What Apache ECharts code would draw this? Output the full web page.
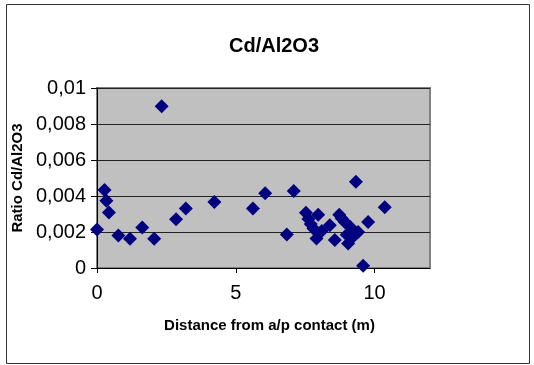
<!DOCTYPE html>
<html>
<head>
<meta charset="utf-8">
<script src="https://cdn.jsdelivr.net/npm/echarts@6/dist/echarts.min.js"></script>
<style>
  html, body { margin: 0; padding: 0; background: #fff; }
  #chart { width: 534px; height: 365px; }
</style>
</head>
<body>
<div id="chart"></div>
<script>
// Distance from the a/p contact (m) and the Cd/Al2O3 ratio at each sample
const distance = [
  0, 0.27, 0.34, 0.43, 0.77, 1.19, 1.63, 2.06, 2.33, 2.85,
  3.20, 4.23, 5.62, 6.06, 6.84, 7.09, 7.53, 7.62, 7.70, 7.80,
  7.91, 7.97, 8.10, 8.39, 8.57, 8.73, 8.82, 8.93, 9.00, 9.05,
  9.12, 9.20, 9.28, 9.33, 9.41, 9.59, 9.77, 10.37
];
const ratio = [
  0.00214, 0.00433, 0.00374, 0.00309, 0.00180, 0.00162, 0.00225, 0.00162, 0.00898, 0.00271,
  0.00331, 0.00366, 0.00331, 0.00415, 0.00186, 0.00428, 0.00307, 0.00272, 0.00245, 0.00220,
  0.00164, 0.00296, 0.00205, 0.00238, 0.00156, 0.00296, 0.00275, 0.00255, 0.00185, 0.00136,
  0.00229, 0.00170, 0.00200, 0.00479, 0.00200, 0.00013, 0.00255, 0.00337
];
const xTicks = [0, 5, 10];
const yTicks = [0, 0.002, 0.004, 0.006, 0.008, 0.01];

const chart = echarts.init(document.getElementById('chart'));
const font = 'Arial, "Liberation Sans", sans-serif';
const points = distance.map((d, i) => [d, ratio[i]]);

chart.setOption({
  animation: false,
  backgroundColor: '#ffffff',
  graphic: [{
    type: 'rect',
    shape: { x: 6.5, y: 4.5, width: 523, height: 359 },
    style: { fill: 'none', stroke: '#333333', lineWidth: 1 },
    silent: true,
    z: -1
  }],
  title: {
    text: 'Cd/Al2O3',
    left: 269,
    top: 31,
    textAlign: 'center',
    textStyle: { fontFamily: font, fontSize: 20, fontWeight: 'bold', color: '#000' }
  },
  grid: {
    left: 97,
    top: 88,
    width: 333,
    height: 180,
    show: true,
    backgroundColor: '#C0C0C0',
    borderColor: '#808080',
    borderWidth: 2
  },
  xAxis: {
    type: 'value',
    min: 0,
    max: 12,
    interval: 5,
    name: 'Distance from a/p contact (m)',
    nameLocation: 'middle',
    nameGap: 50,
    nameTextStyle: { fontFamily: font, fontSize: 15, fontWeight: 'bold', color: '#000', padding: [0, 0, 0, 12] },
    axisLine: { show: true, onZero: false, lineStyle: { color: '#000', width: 1 } },
    axisTick: { show: true, inside: false, length: 5, customValues: xTicks, lineStyle: { color: '#000' } },
    axisLabel: {
      customValues: xTicks,
      margin: 15,
      fontFamily: font, fontSize: 20, color: '#000'
    },
    splitLine: { show: false }
  },
  yAxis: {
    type: 'value',
    min: 0,
    max: 0.01,
    interval: 0.002,
    name: 'Ratio Cd/Al2O3',
    nameLocation: 'middle',
    nameRotate: 90,
    nameGap: 71,
    nameTextStyle: { fontFamily: font, fontSize: 15, fontWeight: 'bold', color: '#000' },
    axisLine: { show: true, onZero: false, lineStyle: { color: '#000', width: 1 } },
    axisTick: { show: true, inside: false, length: 6, lineStyle: { color: '#000' } },
    axisLabel: {
      margin: 11,
      fontFamily: font, fontSize: 20, color: '#000',
      formatter: v => String(Number(v.toFixed(3))).replace('.', ',')
    },
    splitLine: { show: true, lineStyle: { color: '#222', width: 1 } }
  },
  series: [{
    type: 'scatter',
    data: points,
    symbol: 'diamond',
    symbolSize: [14, 14],
    itemStyle: { color: '#000080', opacity: 1 },
    z: 3
  }]
});
</script>
</body>
</html>
